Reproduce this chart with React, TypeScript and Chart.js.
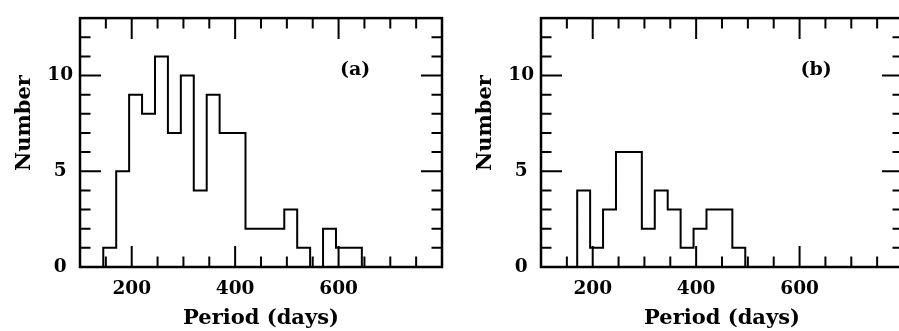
import React, { useEffect, useRef } from "react";
import { Chart, registerables } from "chart.js";

Chart.register(...registerables);

// ---- data ----
const binEdgesA = [145, 170, 195, 220, 245, 270, 295, 320, 345, 370, 395, 420, 445, 470, 495, 520, 545, 570, 595, 620, 645];
const countsA = [1, 5, 9, 8, 11, 7, 10, 4, 9, 7, 7, 2, 2, 2, 3, 1, 0, 2, 1, 1];
const binEdgesB = [170, 195, 220, 245, 270, 295, 320, 345, 370, 395, 420, 445, 470, 495];
const countsB = [4, 1, 3, 6, 6, 2, 4, 3, 1, 2, 3, 3, 1];

const xMajorTicks = [200, 400, 600];
const xMinorTicks = [150, 250, 300, 350, 450, 500, 550, 650, 700, 750];
const yMajorTicks = [0, 5, 10];
const yMinorTicks = [1, 2, 3, 4, 6, 7, 8, 9, 11, 12];
const xMin = 100;
const xMax = 800;
const yMin = 0;
const yMax = 13;
const xTitle = "Period (days)";
const yTitle = "Number";
const panelLabels = ["(a)", "(b)"];
const panelLabelX = 632;
const panelLabelY = 10.3;

const FONT = "'DejaVu Serif', 'Liberation Serif', serif";

function stepPoints(edges: number[], counts: number[]) {
  const pts: { x: number; y: number }[] = [{ x: edges[0], y: 0 }];
  counts.forEach((c, i) => pts.push({ x: edges[i], y: c }));
  pts.push({ x: edges[edges.length - 1], y: 0 });
  return pts;
}

const framePlugin = {
  id: "frame",
  afterDatasetsDraw(chart: any, _args: any, opts: any) {
    const { ctx, chartArea } = chart;
    const { left, right, top, bottom } = chartArea;
    const xs = chart.scales.x;
    const ys = chart.scales.y;
    const LONG = 21;
    const SHORT = 10.5;
    ctx.save();
    ctx.strokeStyle = "#000";
    ctx.lineWidth = 2;
    ctx.lineCap = "butt";
    const vt = (v: number, len: number) => {
      const px = xs.getPixelForValue(v);
      ctx.beginPath();
      ctx.moveTo(px, bottom);
      ctx.lineTo(px, bottom - len);
      ctx.moveTo(px, top);
      ctx.lineTo(px, top + len);
      ctx.stroke();
    };
    const ht = (v: number, len: number) => {
      const py = ys.getPixelForValue(v);
      ctx.beginPath();
      ctx.moveTo(left, py);
      ctx.lineTo(left + len, py);
      ctx.moveTo(right, py);
      ctx.lineTo(right - len, py);
      ctx.stroke();
    };
    xMajorTicks.forEach((v) => vt(v, LONG));
    xMinorTicks.forEach((v) => vt(v, SHORT));
    yMajorTicks.forEach((v) => ht(v, LONG));
    yMinorTicks.forEach((v) => ht(v, SHORT));
    ctx.lineWidth = 2.5;
    ctx.strokeRect(left, top, right - left, bottom - top);

    // panel label
    ctx.fillStyle = "#000";
    ctx.font = `bold 19px ${FONT}`;
    ctx.textAlign = "center";
    ctx.textBaseline = "middle";
    ctx.fillText(opts.label, xs.getPixelForValue(panelLabelX), ys.getPixelForValue(panelLabelY));

    // y title
    ctx.font = `bold 21px ${FONT}`;
    ctx.translate(30, 123);
    ctx.rotate(-Math.PI / 2);
    ctx.textBaseline = "alphabetic";
    ctx.fillText(yTitle, 0, 0);
    ctx.restore();
  },
};

function Panel({ edges, counts, label, left }: { edges: number[]; counts: number[]; label: string; left: number }) {
  const ref = useRef<HTMLCanvasElement>(null);
  useEffect(() => {
    if (!ref.current) return;
    const chart = new Chart(ref.current, {
      type: "line",
      data: {
        datasets: [
          {
            data: stepPoints(edges, counts),
            stepped: true,
            borderColor: "#000",
            borderWidth: 2,
            pointRadius: 0,
            fill: false,
            tension: 0,
          },
        ],
      },
      options: {
        animation: false,
        responsive: false,
        layout: { padding: { left: 0, top: 10, right: 8, bottom: 0 } },
        plugins: {
          legend: { display: false },
          tooltip: { enabled: false },
          frame: { label },
        } as any,
        scales: {
          x: {
            type: "linear",
            min: xMin,
            max: xMax,
            grid: { display: false, drawTicks: false },
            border: { display: false },
            afterBuildTicks: (s: any) => {
              s.ticks = xMajorTicks.map((v) => ({ value: v }));
            },
            afterFit: (s: any) => {
              s.height = 64;
            },
            ticks: {
              color: "#000",
              font: { family: FONT, size: 18.5, weight: "bold" },
              padding: 11,
              maxRotation: 0,
              autoSkip: false,
            },
            title: {
              display: true,
              text: xTitle,
              color: "#000",
              font: { family: FONT, size: 21, weight: "bold" },
              padding: { top: 0, bottom: 0 },
            },
          },
          y: {
            type: "linear",
            min: yMin,
            max: yMax,
            grid: { display: false, drawTicks: false },
            border: { display: false },
            afterBuildTicks: (s: any) => {
              s.ticks = yMajorTicks.map((v) => ({ value: v }));
            },
            afterFit: (s: any) => {
              s.width = 80;
            },
            ticks: {
              color: "#000",
              font: { family: FONT, size: 18.5, weight: "bold" },
              padding: 7,
              crossAlign: "center",
              autoSkip: false,
            },
          },
        },
      } as any,
      plugins: [framePlugin],
    });
    return () => chart.destroy();
  }, []);
  return (
    <div style={{ position: "absolute", left, top: 0, width: 450, height: 331 }}>
      <canvas ref={ref} width={450} height={331} style={{ display: "block", width: 450, height: 331 }} />
    </div>
  );
}

export default function App() {
  return (
    <div
      style={{
        position: "fixed",
        left: 0,
        top: 0,
        width: 899,
        height: 331,
        overflow: "hidden",
        background: "#fff",
      }}
    >
      <Panel edges={binEdgesA} counts={countsA} label={panelLabels[0]} left={0} />
      <Panel edges={binEdgesB} counts={countsB} label={panelLabels[1]} left={461} />
    </div>
  );
}
